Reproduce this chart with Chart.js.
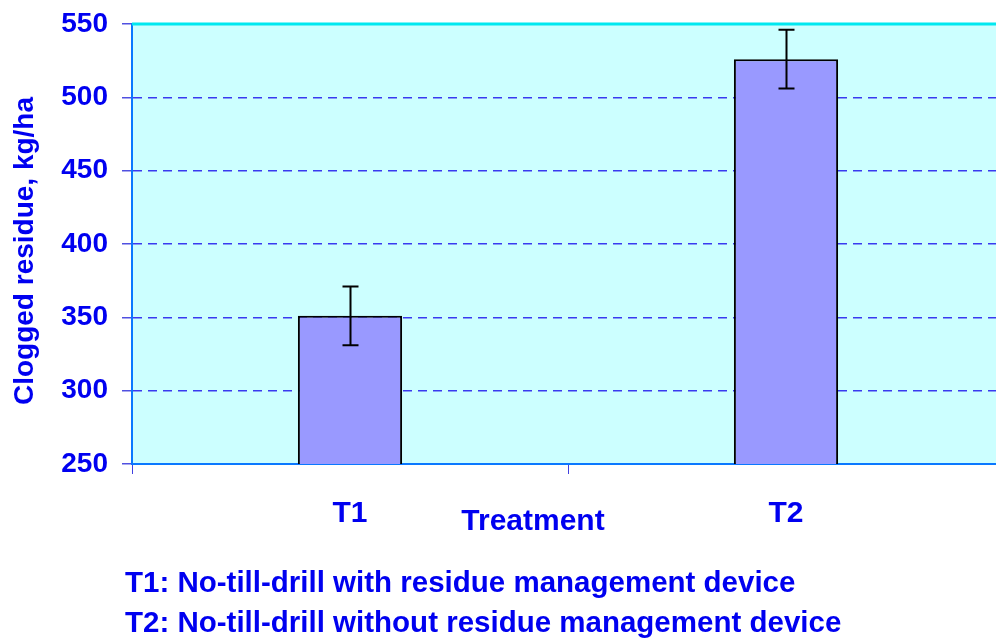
<!DOCTYPE html>
<html>
<head>
<meta charset="utf-8">
<script src="https://cdn.jsdelivr.net/npm/chart.js@4/dist/chart.umd.min.js"></script>
<style>
html,body{margin:0;padding:0;background:#fff;overflow:hidden;width:996px;height:639px;}
#wrap{position:absolute;left:0;top:0;width:1010px;height:639px;}
.note{position:absolute;left:125px;font:bold 29.5px/30px "Liberation Sans",Arial,sans-serif;color:#0000f0;white-space:nowrap;}
</style>
</head>
<body>
<div id="wrap"><canvas id="c" width="1010" height="639"></canvas></div>
<div class="note" style="top:567px">T1: No-till-drill with residue management device</div>
<div class="note" style="top:607px">T2: No-till-drill without residue management device</div>
<script>
const categories = ['T1', 'T2'];
const residue = [351, 526];
const residueError = [20, 20];
const yTicks = [250, 300, 350, 400, 450, 500, 550];
const xTitle = 'Treatment';
const yTitle = 'Clogged residue, kg/ha';

const FONT = '"Liberation Sans", Arial, sans-serif';
const TEXT = '#0000f0';

const bgPlugin = {
  id: 'bg',
  beforeDraw(chart) {
    const a = chart.chartArea, ctx = chart.ctx;
    ctx.save();
    ctx.fillStyle = '#ccffff';
    ctx.fillRect(a.left, a.top, a.right - a.left, a.bottom - a.top);
    ctx.restore();
  },
  afterDatasetsDraw(chart) {
    const ctx = chart.ctx, y = chart.scales.y, a = chart.chartArea;
    ctx.save();
    ctx.strokeStyle = '#00e8f0';
    ctx.lineWidth = 3;
    ctx.beginPath();
    ctx.moveTo(a.left, y.getPixelForValue(550));
    ctx.lineTo(a.right, y.getPixelForValue(550));
    ctx.stroke();
    const meta = chart.getDatasetMeta(0);
    ctx.strokeStyle = '#000';
    ctx.lineWidth = 2;
    meta.data.forEach((bar, i) => {
      const x = Math.round(bar.x) + 0.5;
      const t = y.getPixelForValue(residue[i] + residueError[i]);
      const b = y.getPixelForValue(residue[i] - residueError[i]);
      ctx.beginPath();
      ctx.moveTo(x, t); ctx.lineTo(x, b);
      ctx.moveTo(x - 8, t); ctx.lineTo(x + 8, t);
      ctx.moveTo(x - 8, b); ctx.lineTo(x + 8, b);
      ctx.stroke();
    });
    ctx.fillStyle = TEXT;
    ctx.font = 'bold 30px ' + FONT;
    ctx.textAlign = 'center';
    ctx.textBaseline = 'middle';
    ctx.fillText(xTitle, 533, 522);
    ctx.translate(25, 251);
    ctx.rotate(-Math.PI / 2);
    ctx.font = 'bold 28px ' + FONT;
    ctx.fillText(yTitle, 0, 0);
    ctx.restore();
  }
};

new Chart(document.getElementById('c'), {
  type: 'bar',
  data: {
    labels: categories,
    datasets: [{
      data: residue,
      backgroundColor: '#9999ff',
      borderColor: '#000000',
      borderWidth: 2,
      barPercentage: 0.239,
      categoryPercentage: 1
    }]
  },
  options: {
    responsive: false,
    animation: false,
    layout: { padding: { top: 24, left: 0, right: 6, bottom: 0 } },
    plugins: { legend: { display: false }, tooltip: { enabled: false } },
    scales: {
      x: {
        offset: true,
        grid: {
          offset: true,
          drawOnChartArea: false,
          drawTicks: true,
          tickLength: 10,
          color: '#4040e0',
          lineWidth: 1
        },
        border: { display: true, color: '#0a78ff', width: 2 },
        ticks: {
          color: TEXT,
          font: { family: FONT, size: 30, weight: 'bold' },
          padding: 22
        },
        afterFit(s) { s.height = 175; s.paddingLeft = 0; s.paddingRight = 0; }
      },
      y: {
        min: 250,
        max: 550,
        afterBuildTicks(s) { s.ticks = yTicks.map(v => ({ value: v })); },
        grid: {
          color: (c) => (c.tick && (c.tick.value === 550 || c.tick.value === 250)) ? 'rgba(0,0,0,0)' : '#3a3af0',
          tickColor: '#5050e0',
          lineWidth: 1.5,
          tickBorderDash: [],
          tickLength: 10,
          drawTicks: true
        },
        border: { display: true, color: '#0a78ff', width: 2, dash: [9, 6] },
        ticks: {
          color: TEXT,
          font: { family: FONT, size: 28, weight: 'bold' },
          padding: 14
        },
        afterFit(s) { s.width = 132; s.paddingTop = 0; s.paddingBottom = 0; }
      }
    }
  },
  plugins: [bgPlugin]
});
</script>
</body>
</html>
